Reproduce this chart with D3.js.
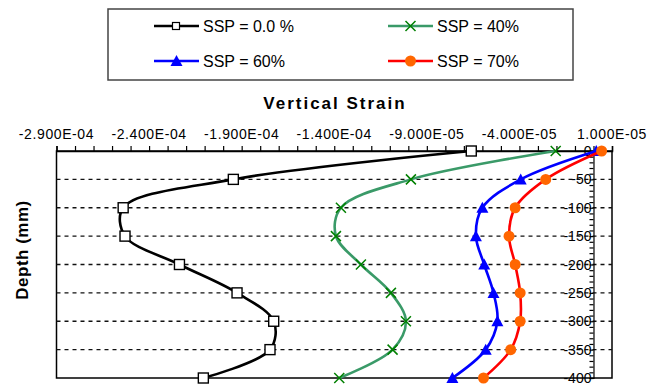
<!DOCTYPE html>
<html>
<head>
<meta charset="utf-8">
<script src="https://cdn.jsdelivr.net/npm/d3@7"></script>
<style>
  body { margin: 0; background: #fff; }
  svg { display: block; font-family: "Liberation Sans", Arial, sans-serif; }
</style>
</head>
<body>
<svg id="chart" width="662" height="384"></svg>
<script>
// Depth of each reading (mm, plotted as negative values)
const depths = [0, -50, -100, -150, -200, -250, -300, -350, -400];

// Vertical strain readings for each SSP level
const ssp0 = [-6.6e-5, -1.945e-4, -2.54e-4, -2.53e-4, -2.236e-4, -1.925e-4, -1.727e-4, -1.747e-4, -2.107e-4];
const ssp40 = [-2.04e-5, -9.86e-5, -1.364e-4, -1.391e-4, -1.256e-4, -1.094e-4, -1.013e-4, -1.085e-4, -1.373e-4];
const ssp60 = [1.5e-6, -3.93e-5, -6.0e-5, -6.35e-5, -5.9e-5, -5.4e-5, -5.19e-5, -5.82e-5, -7.62e-5];
const ssp70 = [4.4e-6, -2.58e-5, -4.23e-5, -4.56e-5, -4.23e-5, -3.96e-5, -3.96e-5, -4.47e-5, -5.94e-5];

const seriesNames = ["SSP = 0.0 %", "SSP = 40%", "SSP = 60%", "SSP = 70%"];

// Axis ticks
const xTickValues = [-2.9e-4, -2.4e-4, -1.9e-4, -1.4e-4, -9.0e-5, -4.0e-5, 1.0e-5];
const yTickValues = [0, -50, -100, -150, -200, -250, -300, -350, -400];

const series = [
  { name: seriesNames[0], values: ssp0, line: "#000000", marker: "square", mcolor: "#000000" },
  { name: seriesNames[1], values: ssp40, line: "#3a9a68", marker: "cross", mcolor: "#008000" },
  { name: seriesNames[2], values: ssp60, line: "#0000ff", marker: "triangle", mcolor: "#0000ff" },
  { name: seriesNames[3], values: ssp70, line: "#ff0000", marker: "circle", mcolor: "#ff6600" }
];

const svg = d3.select("#chart");
const plot = { left: 56.5, right: 612, top: 151, bottom: 378 };

const x = d3.scaleLinear().domain([-2.9e-4, 1.0e-5]).range([plot.left, plot.right]);
const y = d3.scaleLinear().domain([0, -400]).range([plot.top, plot.bottom]);

// Plot frame
svg.append("rect")
  .attr("x", plot.left).attr("y", plot.top)
  .attr("width", plot.right - plot.left).attr("height", plot.bottom - plot.top)
  .attr("fill", "none").attr("stroke", "#000").attr("stroke-width", 1.5);

// Dashed horizontal gridlines
svg.append("g")
  .selectAll("line")
  .data(yTickValues.filter(d => d !== 0 && d !== -400))
  .enter().append("line")
  .attr("x1", plot.left).attr("x2", plot.right)
  .attr("y1", d => y(d)).attr("y2", d => y(d))
  .attr("stroke", "#111").attr("stroke-width", 1.4)
  .attr("stroke-dasharray", "4 4");

// Top x axis: minor ticks every 1e-5, labels every 5e-5
const xMinor = d3.range(0, 31).map(i => -2.9e-4 + i * 1e-5);
svg.append("g")
  .attr("transform", `translate(0,${plot.top})`)
  .call(d3.axisTop(x).tickValues(xMinor).tickSize(5).tickFormat(""))
  .call(g => g.select(".domain").attr("stroke-width", 1.5))
  .call(g => g.selectAll(".tick line").attr("stroke-width", 1.2));

// Excel-style scientific labels, plain hyphen for the minus sign
const sci = d => d3.format(".3e")(d)
  .replace("\u2212", "-")
  .replace("e", "E")
  .replace(/E([+-])(\d)$/, "E$10$2")
  .replace("E+", "E+");

svg.append("g")
  .selectAll("text")
  .data(xTickValues)
  .enter().append("text")
  .attr("x", d => x(d))
  .attr("y", 139)
  .attr("text-anchor", "middle")
  .style("font-size", "14px")
  .style("letter-spacing", "0.6px")
  .text(d => sci(d));

// Vertical axis at x = 0 with ticks every 10 mm
const yMinor = d3.range(0, 41).map(i => -i * 10);
svg.append("g")
  .attr("transform", `translate(${x(0)},0)`)
  .call(d3.axisLeft(y).tickValues(yMinor).tickSize(4).tickFormat(""))
  .call(g => g.select(".domain").attr("stroke-width", 1.2))
  .call(g => g.selectAll(".tick line").attr("stroke-width", 1.2));

svg.append("g")
  .selectAll("text")
  .data(yTickValues)
  .enter().append("text")
  .attr("x", x(0) - 2)
  .attr("y", d => y(d))
  .attr("dy", "0.36em")
  .attr("text-anchor", "end")
  .style("font-size", "14px")
  .text(d => d);

// Axis titles
svg.append("text")
  .attr("x", 335).attr("y", 109)
  .attr("text-anchor", "middle")
  .style("font-size", "17px").style("font-weight", "bold")
  .style("letter-spacing", "2px")
  .text("Vertical Strain");

svg.append("text")
  .attr("transform", "translate(28,250) rotate(-90)")
  .attr("text-anchor", "middle")
  .style("font-size", "17px").style("font-weight", "bold")
  .style("letter-spacing", "0.5px")
  .text("Depth (mm)");

// Marker drawing helper
function drawMarker(g, type, color, cx, cy) {
  if (type === "square") {
    g.append("rect").attr("x", cx - 5).attr("y", cy - 5).attr("width", 10).attr("height", 10)
      .attr("fill", "#fff").attr("stroke", color).attr("stroke-width", 1.4);
  } else if (type === "cross") {
    g.append("path").attr("d", `M${cx - 5},${cy - 5}L${cx + 5},${cy + 5}M${cx - 5},${cy + 5}L${cx + 5},${cy - 5}`)
      .attr("stroke", color).attr("stroke-width", 1.5).attr("fill", "none");
  } else if (type === "triangle") {
    g.append("path").attr("d", `M${cx},${cy - 6}L${cx + 6},${cy + 5}L${cx - 6},${cy + 5}Z`)
      .attr("fill", color);
  } else {
    g.append("circle").attr("cx", cx).attr("cy", cy).attr("r", 5.5).attr("fill", color);
  }
}

// Smoothed curves with markers
const line = d3.line()
  .x(d => x(d[0]))
  .y(d => y(d[1]))
  .curve(d3.curveCatmullRom.alpha(0.5));

series.forEach(s => {
  const pts = s.values.map((v, i) => [v, depths[i]]);
  svg.append("path")
    .datum(pts)
    .attr("d", line)
    .attr("fill", "none")
    .attr("stroke", s.line)
    .attr("stroke-width", 2.6);
  const mg = svg.append("g");
  pts.forEach(p => drawMarker(mg, s.marker, s.mcolor, x(p[0]), y(p[1])));
});

// Legend
const legend = svg.append("g");
legend.append("rect")
  .attr("x", 108).attr("y", 9).attr("width", 465).attr("height", 71)
  .attr("fill", "#fff").attr("stroke", "#444").attr("stroke-width", 1.5);

const legendPos = [[154, 26], [388, 26], [154, 61], [388, 61]];
series.forEach((s, i) => {
  const [lx, ly] = legendPos[i];
  legend.append("line")
    .attr("x1", lx).attr("x2", lx + 45).attr("y1", ly).attr("y2", ly)
    .attr("stroke", s.line).attr("stroke-width", 2.6);
  if (s.marker === "square") {
    legend.append("rect").attr("x", lx + 18.5).attr("y", ly - 3.5).attr("width", 7).attr("height", 7)
      .attr("fill", "#fff").attr("stroke", "#000").attr("stroke-width", 1.2);
  } else {
    drawMarker(legend, s.marker, s.mcolor, lx + 22.5, ly);
  }
  legend.append("text")
    .attr("x", lx + 49).attr("y", ly).attr("dy", "0.36em")
    .style("font-size", "16px")
    .text(s.name);
});
</script>
</body>
</html>
